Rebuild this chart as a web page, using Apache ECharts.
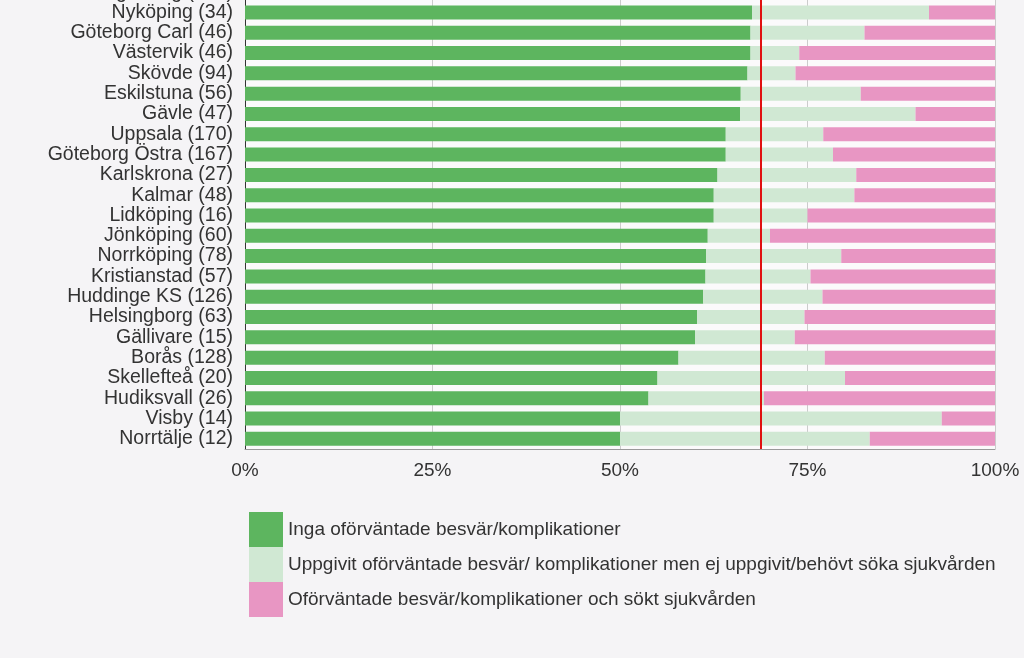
<!DOCTYPE html>
<html>
<head>
<meta charset="utf-8">
<script src="https://cdn.jsdelivr.net/npm/echarts@6/dist/echarts.min.js"></script>
<style>
html,body{margin:0;padding:0;background:#f5f4f6;overflow:hidden;}
#chart{width:1024px;height:676px;position:absolute;left:0;top:-18px;}
</style>
</head>
<body>
<div id="chart"></div>
<script>
const categories = [
  "Göteborg Sahlg (174)", "Nyköping (34)", "Göteborg Carl (46)", "Västervik (46)", "Skövde (94)",
  "Eskilstuna (56)", "Gävle (47)", "Uppsala (170)", "Göteborg Östra (167)", "Karlskrona (27)",
  "Kalmar (48)", "Lidköping (16)", "Jönköping (60)", "Norrköping (78)", "Kristianstad (57)",
  "Huddinge KS (126)", "Helsingborg (63)", "Gällivare (15)", "Borås (128)", "Skellefteå (20)",
  "Hudiksvall (26)", "Visby (14)", "Norrtälje (12)"
];
const seriesNames = [
  "Inga oförväntade besvär/komplikationer",
  "Uppgivit oförväntade besvär/ komplikationer men ej uppgivit/behövt söka sjukvården",
  "Oförväntade besvär/komplikationer och sökt sjukvården"
];
const inga = [68.4, 67.6, 67.4, 67.4, 67.0, 66.1, 66.0, 64.1, 64.1, 63.0, 62.5, 62.5, 61.7, 61.5, 61.4, 61.1, 60.3, 60.0, 57.8, 55.0, 53.8, 50.0, 50.0];
const uppgivit = [20.1, 23.6, 15.2, 6.5, 6.4, 16.0, 23.4, 13.0, 14.3, 18.5, 18.75, 12.5, 8.3, 18.0, 14.0, 15.9, 14.3, 13.3, 19.5, 25.0, 15.4, 42.9, 33.3];
const sokt = [11.5, 8.8, 17.4, 26.1, 26.6, 17.9, 10.6, 22.9, 21.6, 18.5, 18.75, 25.0, 30.0, 20.5, 24.6, 23.0, 25.4, 26.7, 22.7, 20.0, 30.8, 7.1, 16.7];
const referenceLine = 68.8;
const xTicks = [0, 25, 50, 75, 100];

const colors = ["#5db55f", "#d0e8d3", "#e896c3"];
const chart = echarts.init(document.getElementById('chart'), null, {renderer: 'canvas'});
const font = "Liberation Sans, Arial, sans-serif";
const fs = 19;
const mk = (name, data, i) => ({
  name: name,
  type: 'bar',
  stack: 'total',
  data: data,
  barWidth: 14,
  itemStyle: {color: colors[i]},
  emphasis: {disabled: true},
  animation: false,
  markLine: i === 0 ? {
    silent: true,
    symbol: 'none',
    label: {show: false},
    lineStyle: {color: '#e01010', width: 2, type: 'solid'},
    data: [{xAxis: referenceLine}]
  } : undefined
});
chart.setOption({
  backgroundColor: '#f5f4f6',
  animation: false,
  grid: {left: 245, right: 29, top: 0, bottom: 209, show: true, backgroundColor: '#fbfafb', borderWidth: 0},
  legend: {
    orient: 'vertical',
    left: 249,
    top: 530,
    padding: 0,
    itemWidth: 34,
    itemHeight: 35,
    itemGap: 0,
    icon: 'rect',
    selectedMode: false,
    textStyle: {fontFamily: font, fontSize: fs, color: '#333', padding: [3, 0, 0, 0]},
    data: seriesNames
  },
  xAxis: {
    type: 'value',
    min: 0, max: 100, interval: 25,
    axisLabel: {
      fontFamily: font, fontSize: fs, color: '#333', margin: 12,
      formatter: v => xTicks.includes(v) ? v + '%' : ''
    },
    axisLine: {show: true, lineStyle: {color: '#999', width: 1}},
    axisTick: {show: false},
    splitLine: {show: true, lineStyle: {color: '#cccccc', width: 1}}
  },
  yAxis: {
    type: 'category',
    inverse: true,
    data: categories,
    axisLabel: {fontFamily: font, fontSize: 19.5, color: '#333', margin: 12, interval: 0, padding: [4, 0, 0, 0]},
    axisLine: {show: true, lineStyle: {color: '#333', width: 1}},
    axisTick: {show: false},
    splitLine: {show: false}
  },
  series: [mk(seriesNames[0], inga, 0), mk(seriesNames[1], uppgivit, 1), mk(seriesNames[2], sokt, 2)]
});
</script>
</body>
</html>
